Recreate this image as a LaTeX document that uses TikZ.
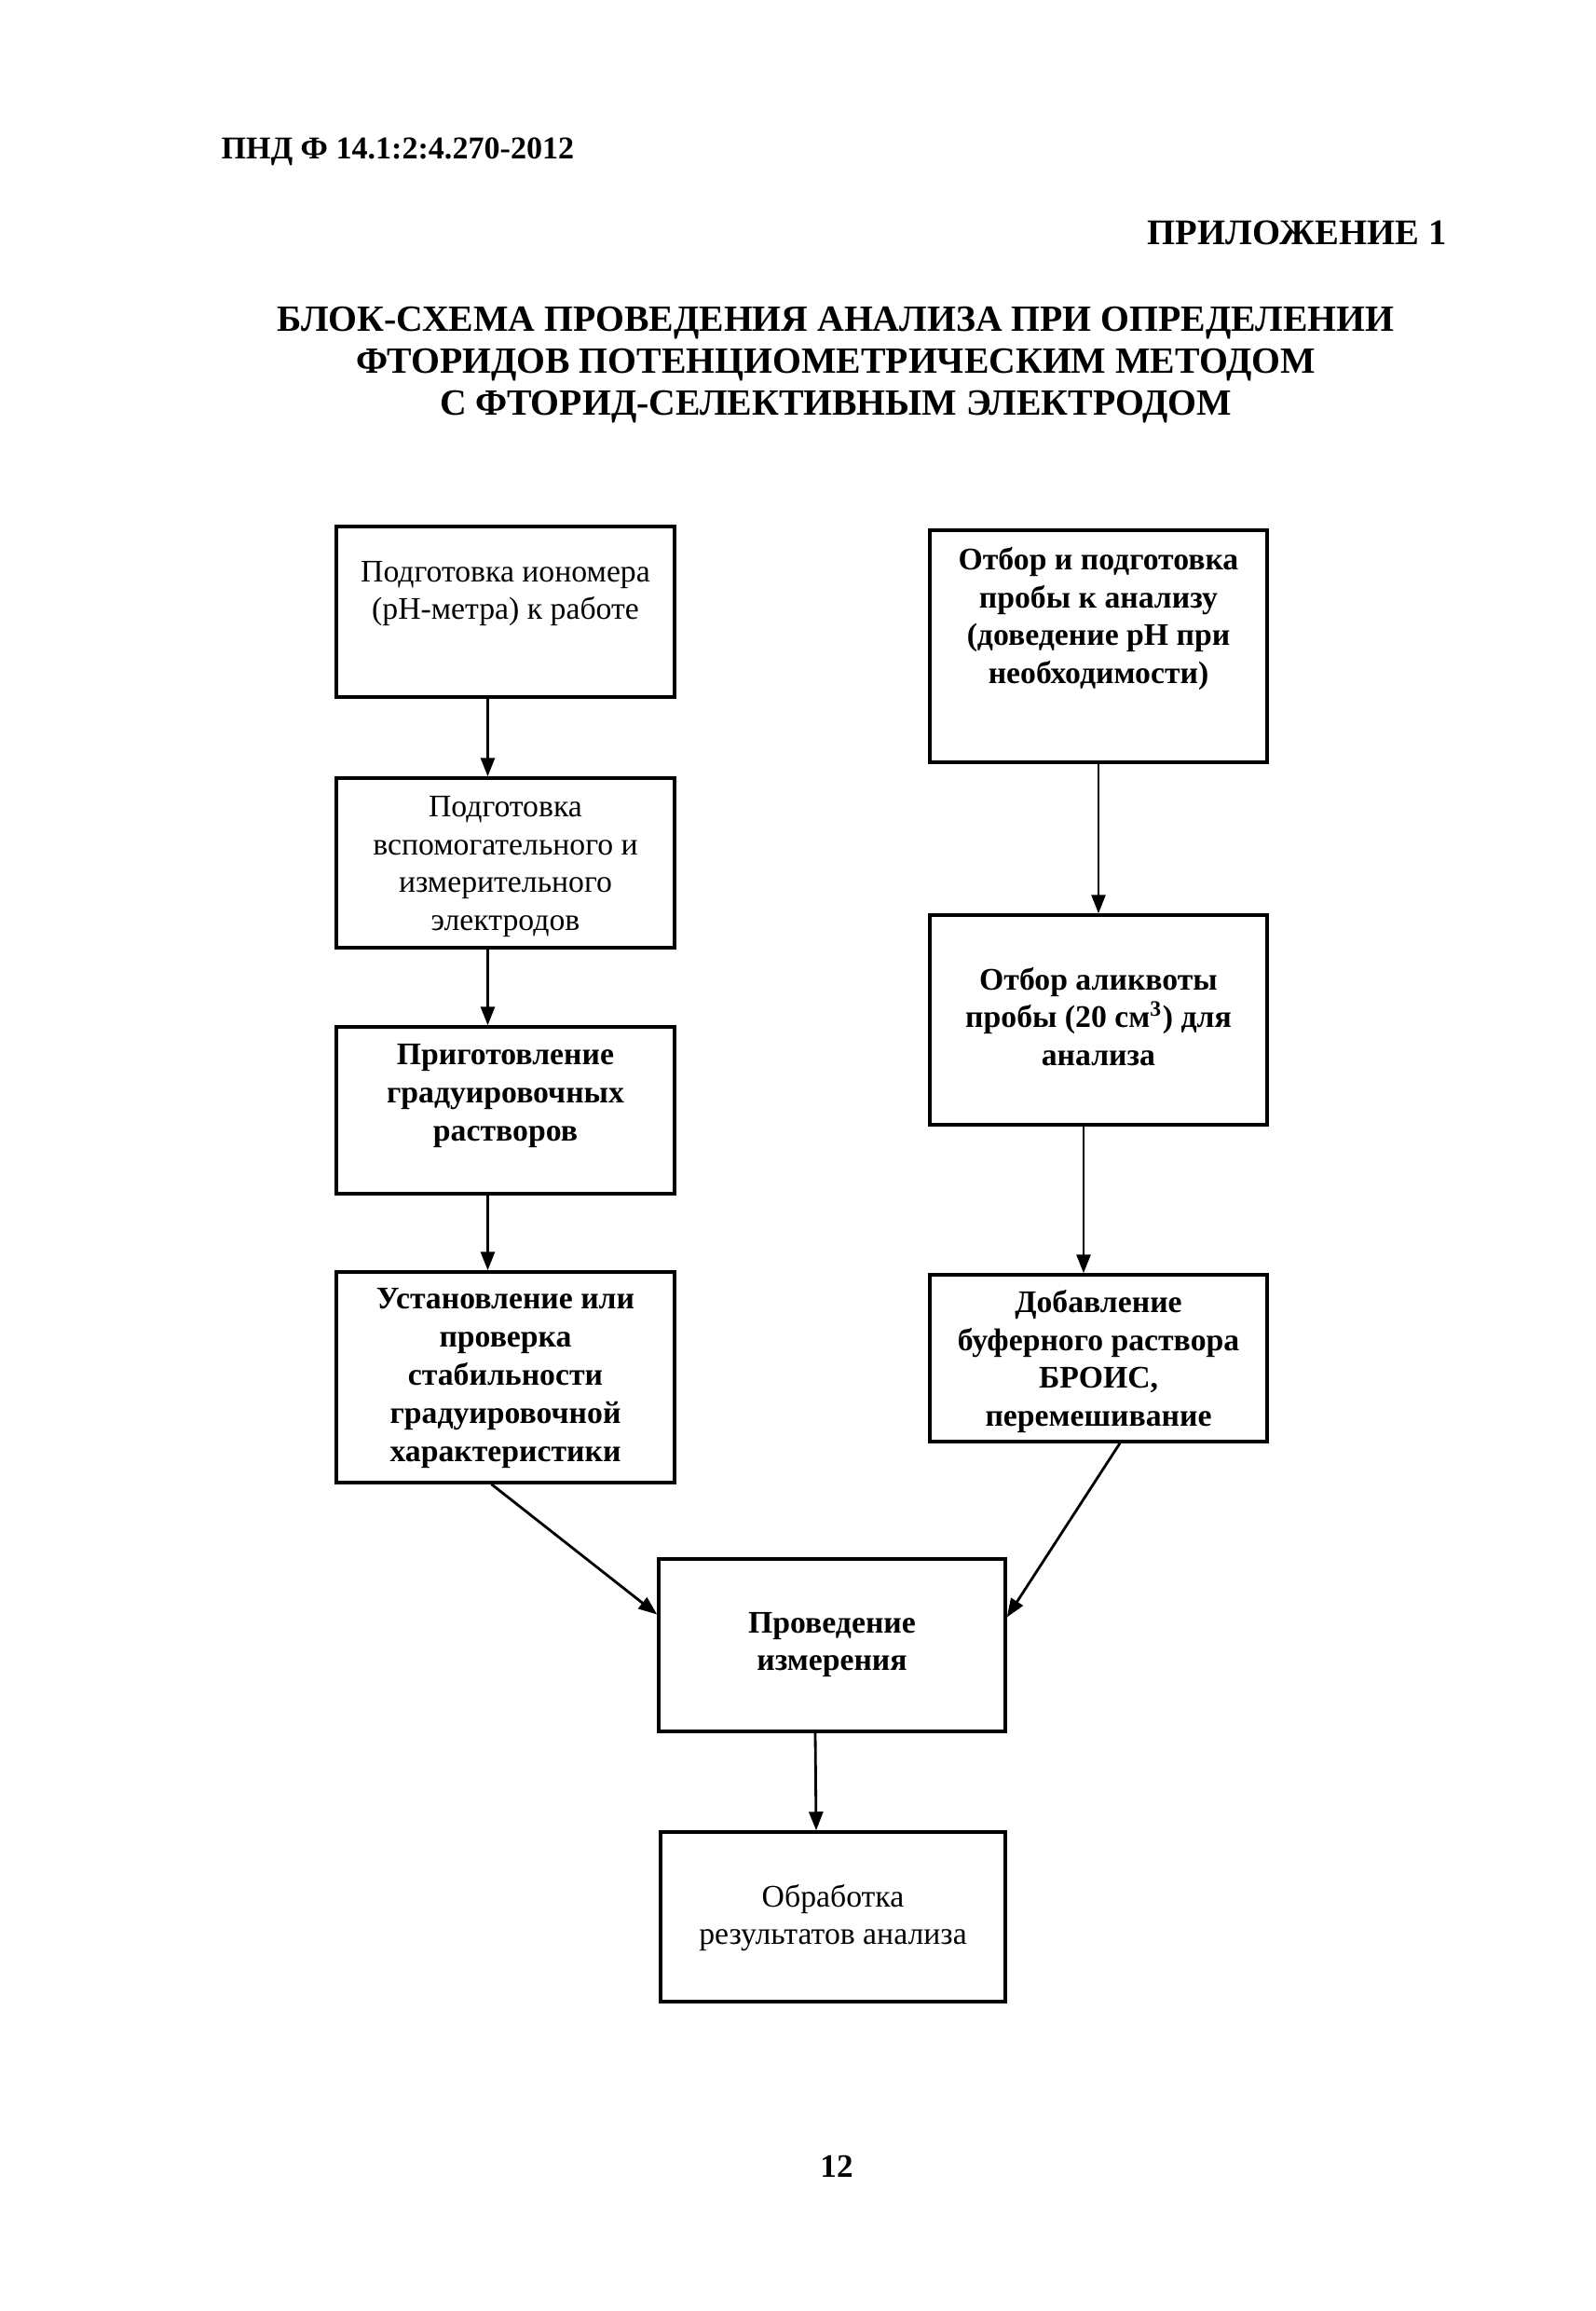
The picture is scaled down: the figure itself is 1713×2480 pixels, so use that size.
\documentclass[tikz,border=0pt]{standalone}
\usepackage{fontspec}
\setmainfont{Liberation Serif}
\usetikzlibrary{arrows.meta}
\begin{document}
\begin{tikzpicture}[x=0.1mm,y=-0.1mm,
  box/.style={draw, line width=1pt, inner sep=0pt, rectangle},
  txt/.style={align=center, inner sep=0pt, font=\fontsize{9.6}{11.6}\selectfont},
  btxt/.style={txt, font=\fontsize{9.6}{11.6}\selectfont\bfseries},
  arr/.style={line width=0.8pt, -{Triangle[length=2mm,width=1.5mm]}}]
\useasboundingbox (0,0) rectangle (1713,2480);
% header texts
\node[anchor=west, inner sep=0pt, font=\fontsize{9.7}{11}\selectfont\bfseries] (hdr) at (237,163) {ПНД Ф 14.1:2:4.270-2012};
\node[anchor=east, inner sep=0pt, font=\fontsize{11}{13}\selectfont\bfseries] (app) at (1553,250) {ПРИЛОЖЕНИЕ 1};
\node[align=center, inner sep=0pt, font=\fontsize{11.3}{12.8}\selectfont\bfseries] (title) at (897,392)
  {БЛОК-СХЕМА ПРОВЕДЕНИЯ АНАЛИЗА ПРИ ОПРЕДЕЛЕНИИ\\ФТОРИДОВ ПОТЕНЦИОМЕТРИЧЕСКИМ МЕТОДОМ\\С ФТОРИД-СЕЛЕКТИВНЫМ ЭЛЕКТРОДОМ};
\node[inner sep=0pt, font=\fontsize{10}{12}\selectfont\bfseries] (pg) at (898,2325) {12};
% boxes
\node[box, minimum width=36.3mm, minimum height=18.3mm] (L1) at (542.5,656.5) {};
\node[box, minimum width=36.3mm, minimum height=18.2mm] (L2) at (542.5,926) {};
\node[box, minimum width=36.3mm, minimum height=17.9mm] (L3) at (542.5,1191.5) {};
\node[box, minimum width=36.3mm, minimum height=22.6mm] (L4) at (542.5,1478) {};
\node[box, minimum width=36.2mm, minimum height=24.9mm] (R1) at (1179,693.5) {};
\node[box, minimum width=36.2mm, minimum height=22.5mm] (R2) at (1179,1094.5) {};
\node[box, minimum width=36.2mm, minimum height=17.9mm] (R3) at (1179,1457.5) {};
\node[box, minimum width=37.2mm, minimum height=18.5mm] (C1) at (893,1765.5) {};
\node[box, minimum width=37.0mm, minimum height=18.2mm] (C2) at (894,2057) {};
% box texts
\node[txt] (tL1) at (542.5,637) {Подготовка иономера\\(pH-метра) к работе};
\node[txt] (tL2) at (542.5,930) {Подготовка\\вспомогательного и\\измерительного\\электродов};
\node[btxt] (tL3) at (542.5,1176) {Приготовление\\градуировочных\\растворов};
\node[btxt] (tL4) at (542.5,1479) {Установление или\\проверка\\стабильности\\градуировочной\\характеристики};
\node[btxt] (tR1) at (1179,664) {Отбор и подготовка\\пробы к анализу\\(доведение pH при\\необходимости)};
\node[btxt] (tR2) at (1179,1091) {Отбор аликвоты\\пробы (20 см\textsuperscript{3}) для\\анализа};
\node[btxt] (tR3) at (1179,1461) {Добавление\\буферного раствора\\БРОИС,\\перемешивание};
\node[btxt] (tC1) at (893,1765) {Проведение\\измерения};
\node[txt] (tC2) at (894,2058) {Обработка\\результатов анализа};
% connectors
\draw[arr] ([xshift=-1.9mm]L1.south) -- ([xshift=-1.9mm]L2.north);
\draw[arr] ([xshift=-1.9mm]L2.south) -- ([xshift=-1.9mm]L3.north);
\draw[arr] ([xshift=-1.9mm]L3.south) -- ([xshift=-1.9mm]L4.north);
\draw[arr] (R1.south) -- (R2.north);
\draw[arr] ([xshift=-1.6mm]R2.south) -- ([xshift=-1.6mm]R3.north);
\draw[arr] ([xshift=-1.5mm]L4.south) -- ([yshift=3.3mm]C1.west);
\draw[arr] ([xshift=2.3mm]R3.south) -- ([yshift=3.0mm]C1.east);
\draw[arr] ([xshift=-1.8mm]C1.south) -- ([xshift=-1.8mm]C2.north);
\end{tikzpicture}
\end{document}
